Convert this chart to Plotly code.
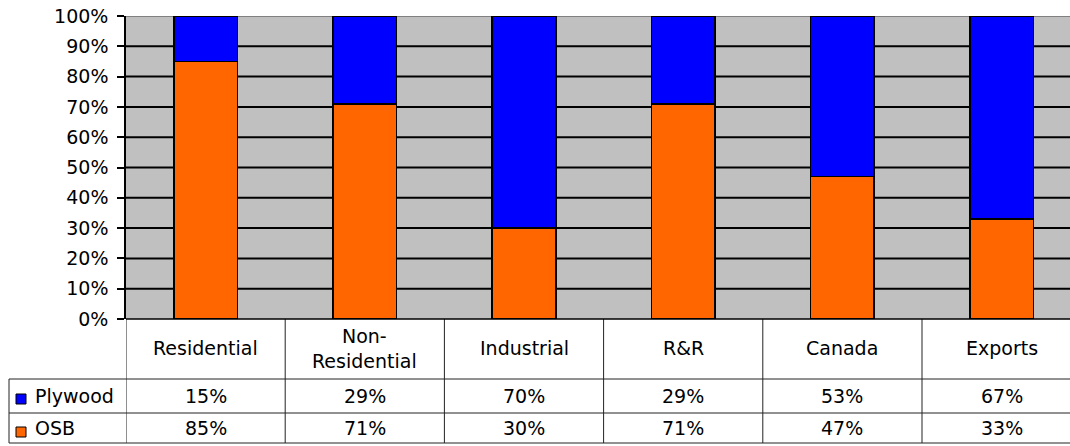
import plotly.graph_objects as go

categories = ["Residential", "Non-<br>Residential", "Industrial", "R&R", "Canada", "Exports"]
plywood = [15, 29, 70, 29, 53, 67]
osb = [85, 71, 30, 71, 47, 33]
series_names = ["Plywood", "OSB"]
colors = {"Plywood": "#0000FF", "OSB": "#FF6600"}
ytick_vals = [i / 10 for i in range(11)]
ytick_text = [f"{i * 10}%" for i in range(11)]

W, H = 1070, 446
ML, MR, MT, MB = 126, 0, 16, 127
PH = H - MT - MB
PW = W - ML - MR
CAT_W = 159.2
x_lo = -0.5
x_hi = x_lo + PW / CAT_W
FONT = "DejaVu Sans"


def py(Y):
    return (H - MB - Y) / PH


def px(X):
    return (X - ML) / PW


fig = go.Figure()
fig.add_trace(go.Bar(x=list(range(len(categories))), y=[v / 100 for v in osb], name="OSB",
                     marker=dict(color=colors["OSB"], line=dict(color="#000000", width=1.5)),
                     width=0.40))
fig.add_trace(go.Bar(x=list(range(len(categories))), y=[v / 100 for v in plywood], name="Plywood",
                     marker=dict(color=colors["Plywood"], line=dict(color="#000000", width=1.5)),
                     width=0.40))

shapes = []
# horizontal gridlines at the y tick values, under the bars
for v in ytick_vals[1:]:
    shapes.append(dict(type="line", xref="x", yref="y", x0=x_lo, x1=x_hi, y0=v, y1=v,
                       layer="between",
                       line=dict(color="#808080" if v == 1 else "#000000", width=2)))
line = dict(color="#222222", width=1)
# vertical table lines
for i in range(len(categories) + 1):
    shapes.append(dict(type="line", xref="x", yref="paper", x0=i - 0.5, x1=i - 0.5,
                       y0=py(443), y1=0, line=line))
# left column line
shapes.append(dict(type="line", xref="paper", yref="paper", x0=px(9), x1=px(9),
                   y0=py(443), y1=py(379), line=line))
for Y in (379, 413, 443):
    shapes.append(dict(type="line", xref="paper", yref="paper", x0=px(9), x1=1,
                       y0=py(Y), y1=py(Y), line=line))
# bottom axis line of the plot area
shapes.append(dict(type="line", xref="paper", yref="paper", x0=0, x1=1, y0=0, y1=0,
                   line=dict(color="#000000", width=1.5)))
# legend keys
for name, (y0, y1) in zip(series_names, [(394, 404), (427, 437)]):
    shapes.append(dict(type="rect", xref="paper", yref="paper", x0=px(16), x1=px(26),
                       y0=py(y1), y1=py(y0), fillcolor=colors[name],
                       line=dict(color="#000000", width=1)))

annotations = []
tf = dict(family=FONT, size=19, color="#000000")
for i, c in enumerate(categories):
    annotations.append(dict(x=i, y=py(348), xref="x", yref="paper", text=c, showarrow=False,
                            font=tf, align="center", xanchor="center", yanchor="middle"))
    annotations.append(dict(x=i, y=py(396), xref="x", yref="paper", text=f"{plywood[i]}%",
                            showarrow=False, font=tf, xanchor="center", yanchor="middle"))
    annotations.append(dict(x=i, y=py(428), xref="x", yref="paper", text=f"{osb[i]}%",
                            showarrow=False, font=tf, xanchor="center", yanchor="middle"))
for name, Y in zip(series_names, [396, 428]):
    annotations.append(dict(x=px(33), y=py(Y), xref="paper", yref="paper", text=name,
                            showarrow=False, font=tf, xanchor="left", yanchor="middle"))

fig.update_layout(
    width=W, height=H,
    margin=dict(l=ML, r=MR, t=MT, b=MB),
    paper_bgcolor="#FFFFFF", plot_bgcolor="#C0C0C0",
    barmode="stack", showlegend=False,
    shapes=shapes, annotations=annotations,
    font=dict(family=FONT, size=18, color="#000000"),
    xaxis=dict(range=[x_lo, x_hi], showticklabels=False, showgrid=False, zeroline=False,
               showline=False, ticks=""),
    yaxis=dict(range=[0, 1], tickvals=ytick_vals, ticktext=ytick_text,
               showgrid=False, zeroline=False, showline=True,
               linecolor="#000000", linewidth=1.5, ticks="outside", ticklen=7,
               tickcolor="#000000", tickwidth=1.5, ticklabelstandoff=5,
               tickfont=dict(family=FONT, size=19, color="#000000")),
)

fig.write_html("out.html")
